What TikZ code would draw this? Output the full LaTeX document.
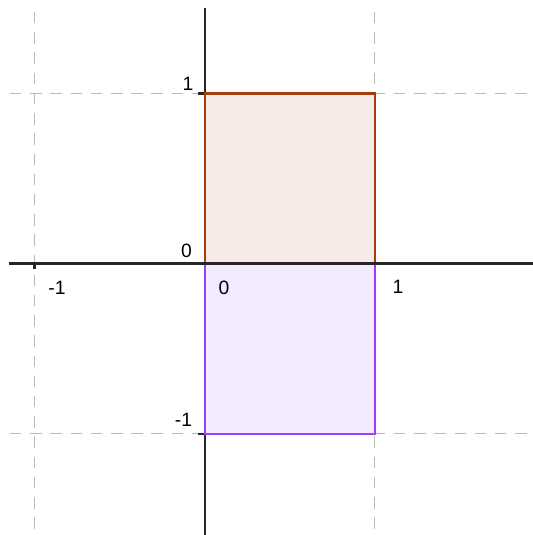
\documentclass[tikz,border=0pt]{standalone}
\usepackage{fontspec}
\setmainfont{Liberation Sans}
\usetikzlibrary{calc}

\definecolor{sqbrown}{RGB}{165,60,10}
\definecolor{sqpurple}{RGB}{160,60,255}
\definecolor{gridgray}{RGB}{185,185,185}

\begin{document}
\begin{tikzpicture}[x=3.4cm,y=3.4cm,
  gridline/.style={gridgray, line width=0.85pt, dash pattern=on 6.5pt off 5pt},
  axisline/.style={black!85, line width=1.15pt},
  tickmark/.style={black!85, line width=1.15pt},
  ticklabel/.style={font=\fontsize{11}{13}\selectfont, inner sep=0pt}]

\useasboundingbox (-1.203,-1.597) rectangle (1.932,1.550);

% Grid
\foreach \t in {-1,1}
{
\draw[gridline] (\t,1.479) -- (\t,-1.597);
\draw[gridline] (-1.144,\t) -- (1.932,\t);
}

% Squares (fill)
\fill[sqbrown, fill opacity=0.1] (0,0) rectangle (1,1);
\fill[sqpurple, fill opacity=0.1] (0,-1) rectangle (1,0);

% y-axis
\draw[axisline] (0,1.503) -- (0,-1.597);
\foreach \y in {-1,1}
{
\draw[tickmark] (0,\y) -- (-0.04,\y);
}

% Squares (border)
\draw[sqbrown, line width=1.15pt] (0,0) rectangle (1,1);
\draw[sqpurple, line width=1.15pt] (0,-1) rectangle (1,0);

% x-axis
\draw[axisline] (-1.15,0) -- (1.932,0);
\draw[tickmark] (-1,0) -- (-1,-0.035);

% Labels
\node[ticklabel] (lblorigin) at (-0.106,0.076) {0};
\node[ticklabel] (lblxzero) at (0.115,-0.141) {0};
\node[ticklabel] (lblxm) at (-0.868,-0.144) {-1};
\node[ticklabel] (lblxp) at (1.138,-0.138) {1};
\node[ticklabel] (lblyp) at (-0.097,1.056) {1};
\node[ticklabel] (lblym) at (-0.124,-0.921) {-1};

\end{tikzpicture}
\end{document}
